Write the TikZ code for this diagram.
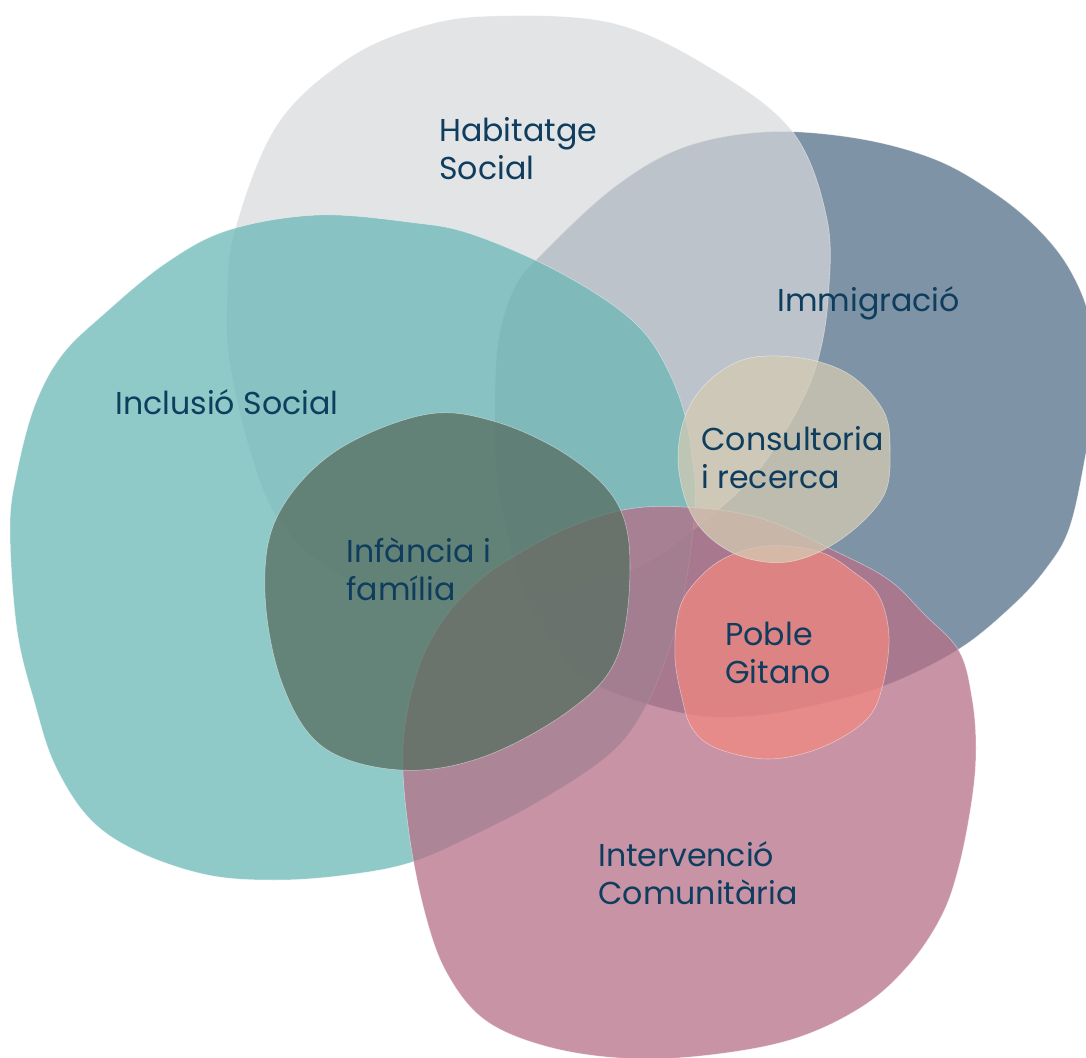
\documentclass[tikz,border=0pt]{standalone}
\usepackage{fontspec}
\setmainfont{Poppins}
\definecolor{habcol}{RGB}{215,216,219}
\definecolor{immcol}{RGB}{84,111,136}
\definecolor{inccol}{RGB}{106,183,182}
\definecolor{infcol}{RGB}{86,110,96}
\definecolor{intcol}{RGB}{182,111,135}
\definecolor{concol}{RGB}{211,203,179}
\definecolor{gitcol}{RGB}{240,135,129}
\definecolor{navy}{RGB}{14,61,94}

\begin{document}
\begin{tikzpicture}[x=0.02cm,y=-0.02cm,
    blob/.style={fill opacity=0.75,draw=white,draw opacity=0.5,line width=0.3pt},
    areatext/.style={text=navy,font=\fontsize{18}{21.6}\selectfont,align=left,anchor=base west,inner sep=0pt}]
                \clip (0,0) rectangle (1086,1058);
                % Immigracio
                \draw[blob,fill=immcol] plot[smooth cycle,tension=0.6] coordinates {(540,256) (612,189) (682,148) (765,132) (855,138) (934,159) (993,192) (1038,229) (1070,270) (1090,321) (1095,390) (1085,458) (1069,529) (1045,570) (1011,607) (959,649) (889,684) (820,704) (751,716) (682,713) (598,686) (563,657) (530,607) (513,557) (497,480) (495,400) (499,337) (515,287)};
                % Habitatge Social
                \draw[blob,fill=habcol,fill opacity=0.7] plot[smooth cycle,tension=0.6] coordinates {(495,16) (612,23) (709,67) (792,131) (827,219) (828,300) (818,360) (800,405) (770,455) (740,490) (693,530) (630,570) (527,597) (463,600) (397,593) (330,570) (277,517) (249,447) (230,364) (227,304) (235,230) (277,125) (346,60) (420,27)};
                % Inclusio Social
                \draw[blob,fill=inccol] plot[smooth cycle,tension=0.6] coordinates {(229,230) (319,215) (416,223) (468,233) (537,261) (595,293) (636,324) (661,357) (682,405) (692,456) (695,506) (685,589) (671,644) (647,704) (612,752) (543,799) (470,837) (409,863) (346,875) (277,880) (208,875) (139,852) (90,819) (55,765) (35,704) (17,630) (10,529) (17,472) (35,405) (62,355) (104,314) (166,263)};
                % Intervencio Comunitaria
                \draw[blob,fill=intcol] plot[smooth cycle,tension=0.6] coordinates {(403,747) (417,673) (443,620) (480,580) (513,557) (563,530) (623,510) (683,507) (760,518) (837,552) (889,580) (924,614) (959,651) (972,698) (976,748) (972,799) (959,866) (941,917) (907,967) (860,1008) (790,1040) (700,1056) (620,1058) (545,1046) (485,1020) (448,975) (426,917) (409,833)};
                % Infancia i familia
                \draw[blob,fill=infcol] plot[smooth cycle,tension=0.6] coordinates {(423,415) (493,421) (567,455) (617,503) (630,567) (617,657) (570,710) (483,757) (400,770) (323,747) (282,683) (265,593) (277,517) (333,453)};
                % Poble Gitano
                \draw[blob,fill=gitcol] plot[smooth cycle,tension=0.6] coordinates {(723,559) (768,546) (820,552) (855,573) (879,596) (889,637) (882,688) (865,721) (820,748) (768,759) (716,748) (692,728) (682,698) (675,658) (678,614) (692,586)};
                % Consultoria i recerca
                \draw[blob,fill=concol] plot[smooth cycle,tension=0.6] coordinates {(737,362) (793,357) (847,373) (883,410) (890,450) (883,497) (840,540) (787,562) (733,553) (693,517) (678,457) (693,400)};
                \node[areatext] (hab) at (439,179) {Habitatge\\Social};
                \node[areatext] (imm) at (777,311) {Immigració};
                \node[areatext] (inc) at (115,414) {Inclusió Social};
                \node[areatext] (con) at (701,488) {Consultoria\\i recerca};
                \node[areatext] (inf) at (346,600) {Infància i\\família};
                \node[areatext] (git) at (725,683) {Poble\\Gitano};
                \node[areatext] (int) at (598,904) {Intervenció\\Comunitària};
            \end{tikzpicture}
\end{document}
